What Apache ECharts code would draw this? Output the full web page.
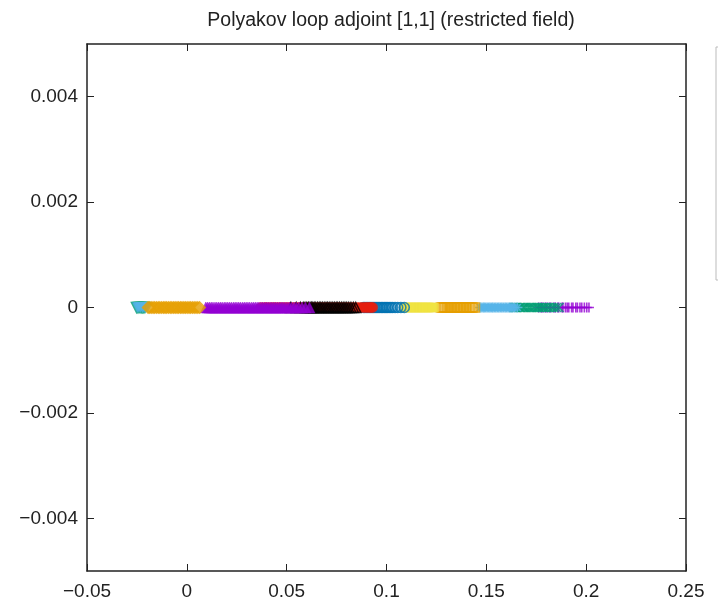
<!DOCTYPE html>
<html><head><meta charset="utf-8">
<script src="https://cdn.jsdelivr.net/npm/echarts@6/dist/echarts.min.js"></script>
<style>html,body{margin:0;padding:0;background:#fff}#c{width:718px;height:606px}</style>
</head><body><div id="c"></div>
<script>
const title = 'Polyakov loop adjoint [1,1] (restricted field)';
const xTicks = [-0.05, 0, 0.05, 0.1, 0.15, 0.2, 0.25];
const yTicks = [-0.004, -0.002, 0, 0.002, 0.004];
const seriesNames = ['1','2','3','4','5','6','7','8','9','10','11','12'];
const seriesColors = ['#9400d3','#009e73','#56b4e9','#e69f00','#f0e442','#0072b2','#e51e10','#000000','#9400d3','#009e73','#56b4e9','#e69f00'];
// x values (y = 0 for all: imaginary part vanishes)
const s1 = [0.1762,0.1775,0.1781,0.1794,0.1803,0.1816,0.1822,0.1838,0.1845,0.1857,0.1863,0.1879,0.1884,0.1896,0.1905,0.1913,0.1927,0.1934,0.1948,0.1956,0.1969,0.1978,0.1991,0.2003,0.2014];
const s2 = [0.1638,0.1645,0.1652,0.1664,0.1671,0.1683,0.1689,0.1697,0.1708,0.1716,0.1724,0.1733,0.1741,0.1752,0.1759,0.1767,0.1778,0.1786,0.1794,0.1806,0.1815,0.1828,0.1839,0.1852,0.1864];
const s3 = [0.1468,0.1474,0.1483,0.1489,0.1496,0.1504,0.1512,0.1519,0.1527,0.1533,0.1541,0.1548,0.1556,0.1563,0.1571,0.1578,0.1586,0.1594,0.1601,0.1609,0.1617,0.1624,0.1633,0.1642,0.1655];
const s4 = [0.1272,0.1279,0.1286,0.1293,0.1301,0.1307,0.1315,0.1322,0.1329,0.1337,0.1344,0.1352,0.1358,0.1366,0.1373,0.1381,0.1388,0.1396,0.1403,0.1411,0.1418,0.1426,0.1434,0.1443];
const s5 = [0.1088,0.1096,0.1103,0.1111,0.1119,0.1126,0.1134,0.1142,0.1149,0.1157,0.1164,0.1172,0.1179,0.1187,0.1195,0.1203,0.1211,0.1219,0.1228,0.1237];
const s6 = [0.0884,0.0891,0.0898,0.0906,0.0913,0.0921,0.0928,0.0936,0.0943,0.0951,0.0958,0.0966,0.0974,0.0981,0.0989,0.0997,0.1004,0.1013,0.1022,0.1031,0.1043,0.1056,0.1072,0.1089];
const s7 = [0.0371,0.0389,0.0402,0.0418,0.0433,0.0447,0.0462,0.0476,0.0491,0.0505,0.0519,0.0534,0.0548,0.0563,0.0577,0.0592,0.0606,0.0621,0.0635,0.0649,0.0664,0.0678,0.0693,0.0707,0.0722,0.0736,0.0751,0.0765,0.0779,0.0794,0.0808,0.0823,0.0837,0.0851,0.0866,0.0878,0.0889,0.0898,0.0907,0.0916,0.0924,0.0931];
const s8 = [0.0521,0.0548,0.0569,0.0583,0.0592,0.0601,0.0609,0.0617,0.0624,0.0631,0.0638,0.0646,0.0655,0.0663,0.0671,0.0679,0.0688,0.0697,0.0705,0.0713,0.0722,0.0731,0.0739,0.0748,0.0756,0.0765,0.0774,0.0783,0.0792,0.0801,0.0811,0.0822,0.0834,0.0846];
const s9 = [0.0095,0.0104,0.0113,0.0122,0.0131,0.0141,0.0150,0.0159,0.0168,0.0177,0.0187,0.0196,0.0205,0.0214,0.0223,0.0233,0.0242,0.0251,0.0260,0.0269,0.0279,0.0288,0.0297,0.0306,0.0315,0.0325,0.0334,0.0343,0.0352,0.0361,0.0371,0.0380,0.0389,0.0398,0.0407,0.0417,0.0426,0.0435,0.0444,0.0453,0.0463,0.0472,0.0481,0.0491,0.0502,0.0513,0.0524,0.0536,0.0548,0.0561,0.0577,0.0594,0.0614];
const s10 = [-0.0252,-0.0246,-0.0240,-0.0234,-0.0228,-0.0222,-0.0216,-0.0210];
const s11 = [-0.0248,-0.0240,-0.0231,-0.0222,-0.0214,-0.0205,-0.0197];
const s12 = [-0.0194,-0.0186,-0.0178,-0.0169,-0.0161,-0.0152,-0.0143,-0.0135,-0.0126,-0.0117,-0.0109,-0.0101,-0.0092,-0.0083,-0.0075,-0.0066,-0.0058,-0.0049,-0.0041,-0.0032,-0.0024,-0.0015,-0.0007,0.0002,0.0011,0.0019,0.0028,0.0037,0.0046,0.0055,0.0064];
const yValue = 0;

const allX = [s1,s2,s3,s4,s5,s6,s7,s8,s9,s10,s11,s12];
const sym = {
  plus: 'path://M0,5H10M5,0V10',
  cross: 'path://M0,0L10,10M10,0L0,10',
  star: 'path://M0,5H10M5,0V10M1.5,1.5L8.5,8.5M8.5,1.5L1.5,8.5',
  invtri: 'path://M0,0L10,0L5,9Z'
};
const styles = [
  {s: sym.plus, fill: false, size: 10},
  {s: sym.cross, fill: false, size: 9},
  {s: sym.star, fill: false, size: 10},
  {s: 'rect', fill: false, size: 9},
  {s: 'rect', fill: true, size: 9},
  {s: 'circle', fill: false, size: 10},
  {s: 'circle', fill: true, size: 10},
  {s: 'triangle', fill: false, size: 10},
  {s: 'triangle', fill: true, size: 11},
  {s: sym.invtri, fill: false, size: 10},
  {s: sym.invtri, fill: true, size: 10},
  {s: 'diamond', fill: false, size: 11}
];
const fmt = v => {
  if (Math.abs(v) < 1e-12) return '0';
  const s = String(+v.toFixed(4));
  return s.replace('-', '\u2212');
};
const series = allX.map((xs, i) => ({
  name: seriesNames[i],
  type: 'scatter',
  xAxisIndex: 0, yAxisIndex: 0,
  symbol: styles[i].s,
  symbolSize: styles[i].size,
  data: xs.map(x => [x, yValue]),
  itemStyle: styles[i].fill
    ? {color: seriesColors[i], borderColor: seriesColors[i], borderWidth: 0.5}
    : {color: 'rgba(0,0,0,0)', borderColor: seriesColors[i], borderWidth: 1.6},
  z: 2 + i,
  animation: false
}));

const font = 'Liberation Sans, Arial, sans-serif';
const axisLine = {show: true, onZero: false, lineStyle: {color: '#222', width: 1.5}};
const tick = {show: true, inside: true, length: 7, lineStyle: {color: '#222', width: 1}};
const labelStyle = {color: '#222', fontSize: 19, fontFamily: font};
const chart = echarts.init(document.getElementById('c'), null, {renderer: 'canvas'});
chart.setOption({
  animation: false,
  backgroundColor: '#fff',
  title: {text: title, left: 386, textAlign: 'center', top: 6, textStyle: {fontSize: 19.5, fontWeight: 'normal', color: '#222', fontFamily: font}},
  legend: {
    orient: 'vertical', left: 716, top: 47, padding: 5, itemGap: 5, itemHeight: 12,
    borderColor: '#bbb', borderWidth: 1, data: seriesNames,
    textStyle: {fontSize: 9, lineHeight: 12, color: '#222'}
  },
  grid: {left: 87, right: 32, top: 44, bottom: 35},
  xAxis: [
    {type: 'value', min: -0.05, max: 0.25, interval: 0.05, position: 'bottom',
     axisLine: axisLine, axisTick: tick,
     axisLabel: Object.assign({margin: 11, formatter: fmt, customValues: xTicks}, labelStyle), splitLine: {show: false}},
    {type: 'value', min: -0.05, max: 0.25, interval: 0.05, position: 'top',
     axisLine: axisLine, axisTick: tick,
     axisLabel: {show: false}, splitLine: {show: false}}
  ],
  yAxis: [
    {type: 'value', min: -0.005, max: 0.005, position: 'left',
     axisLine: axisLine, axisTick: Object.assign({customValues: yTicks}, tick),
     axisLabel: Object.assign({margin: 9, formatter: fmt, customValues: yTicks}, labelStyle), splitLine: {show: false}},
    {type: 'value', min: -0.005, max: 0.005, position: 'right',
     axisLine: axisLine, axisTick: Object.assign({customValues: yTicks}, tick),
     axisLabel: {show: false}, splitLine: {show: false}}
  ],
  series: series
});
</script></body></html>
